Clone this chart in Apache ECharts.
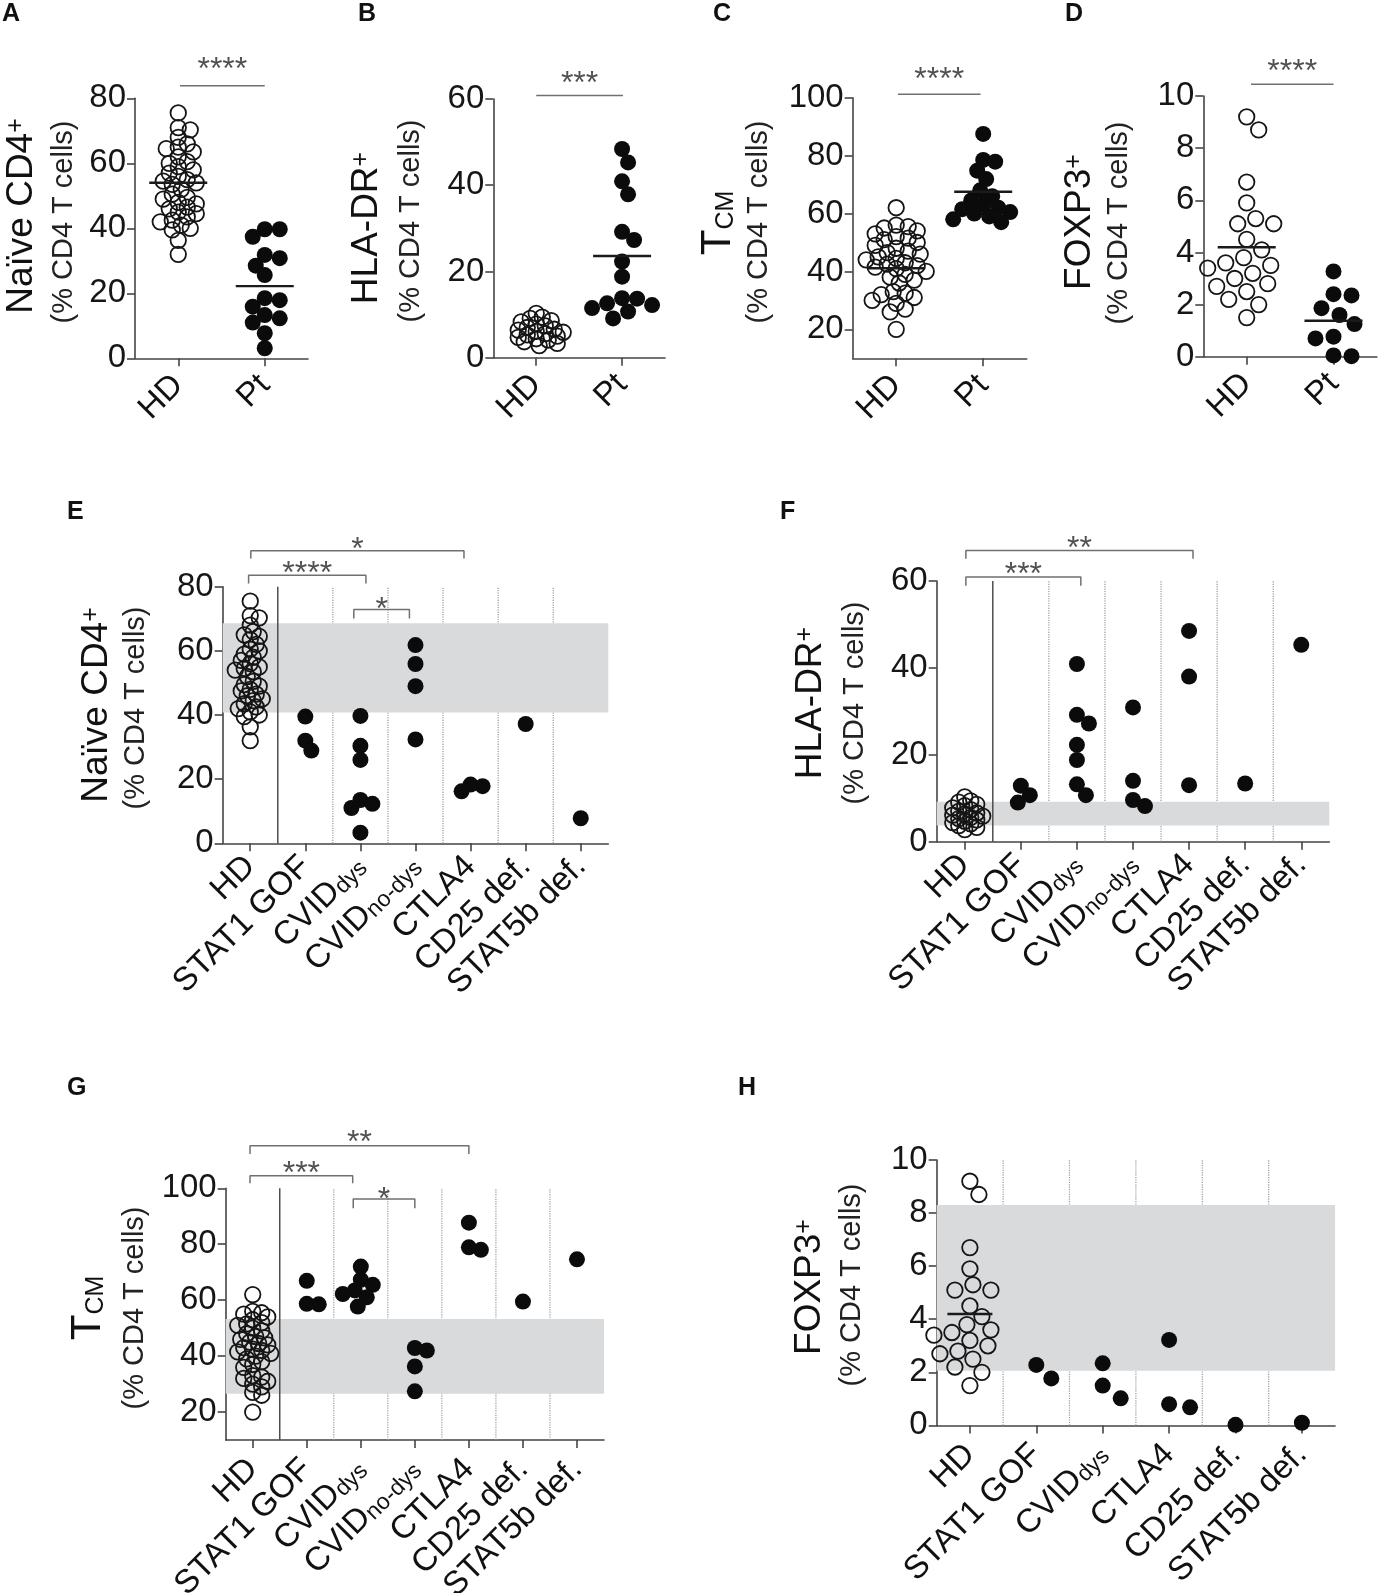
<!DOCTYPE html>
<html>
<head>
<meta charset="utf-8">
<title>CD4 T cell subsets</title>
<script src="https://cdn.jsdelivr.net/npm/echarts@6.0.0/dist/echarts.min.js"></script>
<style>
    html, body { margin: 0; padding: 0; background: #fff; }
    #chart { width: 1380px; height: 1593px; }
</style>
</head>
<body>
<div id="chart"></div>
<script>
var FONT = "'Liberation Sans', Arial, Helvetica, sans-serif";

// groups on the x axes
var groupsTwo = ['HD', 'Pt'];
var groupsSeven = ['HD', 'STAT1 GOF', 'CVIDdys', 'CVIDno-dys', 'CTLA4', 'CD25 def.', 'STAT5b def.'];
var groupsSix = ['HD', 'STAT1 GOF', 'CVIDdys', 'CTLA4', 'CD25 def.', 'STAT5b def.'];

// healthy donors (same donors in A-D and E-H)
var hdNaive = [75.5, 71, 70.3, 68, 66, 65, 64.5, 63.5, 62, 60.5, 60, 59, 58, 57, 56, 55, 54.5, 54, 53.5, 52, 50.5, 49.5, 49, 48, 47.5, 46.5, 46, 45, 44.5, 43.5, 42.5, 42, 41, 40, 39.5, 36.3, 32];
var hdHla = [10.3, 9.4, 9.1, 8.6, 8.3, 7.8, 7.4, 7.0, 6.6, 6.4, 6.1, 5.9, 5.6, 5.3, 5.0, 4.7, 4.4, 4.1, 3.7, 3.3, 2.8];
var hdTcm = [62, 56, 55.5, 55, 54, 53, 52, 51.5, 51, 50, 49, 48, 47, 46.5, 46, 45, 44.5, 44, 43, 42.5, 42, 41.5, 41, 40, 39, 38, 37, 36, 33, 32.5, 32, 31, 30, 29, 27, 26, 20];
var hdFoxp3 = [9.2, 8.7, 6.7, 5.9, 5.3, 5.1, 5.1, 4.5, 4.1, 3.8, 3.6, 3.5, 3.4, 3.2, 3.0, 2.8, 2.7, 2.5, 2.2, 2.0, 1.5];

// all patients (A-D)
var ptNaive = [39.7, 39.7, 37.4, 31.8, 30.8, 28.5, 25.6, 18.5, 17.9, 15.9, 13.3, 12.3, 11, 7.7, 3.1];
var ptHla = [48.4, 45.3, 40.9, 37.9, 29.2, 27.3, 22.3, 18.8, 13.8, 13.7, 12.6, 12.2, 11.5, 10.7, 9.1];
var ptTcm = [87.5, 78.5, 77.9, 74.8, 71.9, 68, 66, 64.5, 63, 62, 61.5, 60.5, 60, 59, 58, 57];
var ptFoxp3 = [3.27, 2.4, 2.35, 1.86, 1.6, 1.25, 0.77, 0.7, 0.05, 0.02];

// patients per diagnosis (E-H), in the order of the groups after HD
var naiveByGroup = [[39.5, 32, 28.9], [39.7, 30.4, 26, 13.5, 12.3, 11, 3.3], [61.8, 55.9, 49, 32.4], [18.3, 17.8, 16.2], [37.2], [7.8]];
var hlaByGroup = [[12.9, 10.7, 9.0], [40.9, 29.2, 27.2, 22.3, 18.8, 13.2, 10.7], [30.9, 14, 9.6, 8.2], [48.5, 38, 13], [13.4], [45.3]];
var tcmByGroup = [[66.9, 58.7, 58.5], [72, 67.3, 65.5, 63.5, 62.2, 61, 57.7], [42.9, 42, 36.3, 27.4], [87.7, 78.9, 78], [59.5], [74.6]];
var foxp3ByGroup = [[2.28, 1.77], [2.34, 1.5, 1.02], [3.22, 0.8, 0.68], [0.02], [0.1]];

// group means (HD, Pt)
var meanNaive = [54, 22.2];
var meanHla = [null, 23.6];
var meanTcm = [41.1, 67.5];
var meanFoxp3 = [4.2, 1.38];
var meanFoxp3H = [4.2];

// HD reference range (grey band)
var bandNaive = [40.8, 68.6];
var bandHla = [3.7, 9.2];
var bandTcm = [26.5, 53.3];
var bandFoxp3 = [2.06, 8.3];

// y ticks
var ticksNaive = [0, 20, 40, 60, 80];
var ticksHla = [0, 20, 40, 60];
var ticksTcm = [20, 40, 60, 80, 100];
var ticksFoxp3 = [0, 2, 4, 6, 8, 10];

// significance bars: x in group units, y in axis units
var sigA = [{text: '****', from: 0.02, to: 1.0, y: 83.9, textY: 88.8}];
var sigB = [{text: '***', from: 0.0, to: 1.01, y: 60.8, textY: 63.5}];
var sigC = [{text: '****', from: 0.02, to: 0.97, y: 101.2, textY: 106}];
var sigD = [{text: '****', from: 0.05, to: 1.0, y: 10.45, textY: 10.92}];
var sigE = [
    {text: '*', from: 0.01, to: 3.88, y: 91.2, leg: 88.8, textY: 91.3},
    {text: '****', from: -0.03, to: 2.1, y: 83.6, leg: 81.0, textY: 84.0},
    {text: '*', from: 1.88, to: 2.89, y: 72.9, leg: 70.1, textY: 72.6}
];
var sigF = [
    {text: '**', from: 0.02, to: 4.07, y: 67.0, leg: 65.1, textY: 67.4},
    {text: '***', from: 0.02, to: 2.07, y: 60.9, leg: 58.9, textY: 61.3}
];
var sigG = [
    {text: '**', from: -0.05, to: 4.0, y: 115.2, leg: 112.3, textY: 116.2},
    {text: '***', from: -0.05, to: 1.85, y: 104.5, leg: 101.8, textY: 105.2},
    {text: '*', from: 1.86, to: 3.0, y: 96.2, leg: 92.9, textY: 95.7}
];

// panel layout
var panels = [
    {letter: 'A', lpos: [2, 14], rect: [135, 98.3, 173, 260], groups: groupsTwo, hd: hdNaive, pts: [ptNaive], range: [0, 80], ticks: ticksNaive,
     means: meanNaive, meanW: 58, sig: sigA, title: 'naive', tpos: [22, 216], spos: [64, 222], margin: 22, hdGap: 9.5, ptGap: 13},
    {letter: 'B', lpos: [358, 14], rect: [493.3, 99, 171.7, 258.7], groups: groupsTwo, hd: hdHla, pts: [ptHla], range: [0, 60], ticks: ticksHla,
     means: meanHla, meanW: 58, sig: sigB, title: 'hla', tpos: [367, 228], spos: [411, 221], margin: 22, hdGap: 7, ptGap: 14},
    {letter: 'C', lpos: [713, 14], rect: [852.7, 97.7, 174, 260.6], groups: groupsTwo, hd: hdTcm, pts: [ptTcm], range: [10, 100], ticks: ticksTcm,
     means: meanTcm, meanW: 58, sig: sigC, title: 'tcm', tpos: [718, 223], spos: [759, 222], margin: 22, hdGap: 9.5, ptGap: 12},
    {letter: 'D', lpos: [1065, 14], rect: [1203.3, 96, 173.6, 260.7], groups: groupsTwo, hd: hdFoxp3, pts: [ptFoxp3], range: [0, 10], ticks: ticksFoxp3,
     means: meanFoxp3, meanW: 58, sig: sigD, title: 'foxp3', tpos: [1080, 222], spos: [1119, 223], margin: 22, hdGap: 17, ptGap: 17},
    {letter: 'E', lpos: [67, 512], rect: [222.7, 586.7, 385.6, 256.6], groups: groupsSeven, hd: hdNaive, pts: naiveByGroup, range: [0, 80], ticks: ticksNaive,
     band: bandNaive, solidFirst: true, sig: sigE, title: 'naive', tpos: [97, 705], spos: [136, 708], margin: 18, hdGap: 7, ptGap: 11},
    {letter: 'F', lpos: [780, 512], rect: [936.7, 581, 392.6, 260.7], groups: groupsSeven, hd: hdHla, pts: hlaByGroup, range: [0, 60], ticks: ticksHla,
     band: bandHla, solidFirst: true, sig: sigF, title: 'hla', tpos: [811, 703], spos: [855, 703], margin: 18, hdGap: 6.5, ptGap: 13},
    {letter: 'G', lpos: [67, 1088], rect: [225.7, 1188.3, 378.3, 251.7], groups: groupsSeven, hd: hdTcm, pts: tcmByGroup, range: [10, 100], ticks: ticksTcm,
     band: bandTcm, solidFirst: true, sig: sigG, title: 'tcm', tpos: [88, 1308], spos: [135, 1308], margin: 24, hdGap: 7, ptGap: 12},
    {letter: 'H', lpos: [738, 1088], rect: [936.7, 1160, 398.4, 265.4], groups: groupsSix, hd: hdFoxp3, pts: foxp3ByGroup, range: [0, 10], ticks: ticksFoxp3,
     band: bandFoxp3, solidFirst: false, means: meanFoxp3H, meanW: 45, title: 'foxp3', tpos: [810, 1287], spos: [852, 1285], margin: 24, hdGap: 16, ptGap: 20}
];

var richTitle = {
    m: {fontSize: 37, fontFamily: FONT, color: '#111'},
    t: {fontSize: 42, fontFamily: FONT, color: '#111'},
    p: {fontSize: 25, fontFamily: FONT, color: '#111', verticalAlign: 'top'},
    b: {fontSize: 25, fontFamily: FONT, color: '#111', verticalAlign: 'bottom'}
};
var titleText = {
    naive: '{m|Naïve CD4}{p|+}',
    hla: '{m|HLA-DR}{p|+}',
    tcm: '{t|T}{b|CM}',
    foxp3: '{m|FOXP3}{p|+}'
};
var richX = {
    m: {fontSize: 33, fontFamily: FONT, color: '#111'},
    s: {fontSize: 23, fontFamily: FONT, color: '#111', verticalAlign: 'bottom'}
};

function catLabel(name) {
    if (name.indexOf('CVID') === 0) {
        return '{m|CVID}{s|' + name.slice(4) + '}';
    }
    return '{m|' + name + '}';
}

// spread overlapping dots sideways (pixel distances), returns [x, value]
function swarm(values, center, pxX, pxY, gap) {
    var placed = [];
    return values.map(function (v) {
        var py = v * pxY;
        var off = 0;
        for (var k = 0; k < 60; k++) {
            off = (k % 2 ? 1 : -1) * Math.ceil(k / 2) * 3;
            var ok = placed.every(function (q) {
                var dx = q[0] - off, dy = q[1] - py;
                return dx * dx + dy * dy >= gap * gap;
            });
            if (ok) break;
        }
        placed.push([off, py]);
        return [center + off / pxX, v];
    });
}

var chart = echarts.init(document.getElementById('chart'));
var grid = [], xAxis = [], yAxis = [], series = [], graphic = [];
var axisColor = '#444';

panels.forEach(function (p, i) {
    var n = p.groups.length;
    var idx = p.groups.map(function (g, k) { return k; });
    var pxX = p.rect[2] / n;
    var pxY = p.rect[3] / (p.range[1] - p.range[0]);

    grid.push({left: p.rect[0], top: p.rect[1], width: p.rect[2], height: p.rect[3], containLabel: false, outerBoundsMode: 'none'});

    xAxis.push({
        gridIndex: i, type: 'value', min: -0.5, max: n - 0.5,
        axisLine: {show: true, onZero: false, lineStyle: {color: axisColor, width: 1.6}},
        axisTick: {show: true, length: 8, customValues: idx, lineStyle: {color: axisColor, width: 1.6}},
        axisLabel: {
            show: true, customValues: idx, rotate: 45, margin: p.margin,
            fontSize: 33, fontFamily: FONT, color: '#111', rich: richX,
            formatter: function (v) { return catLabel(p.groups[Math.round(v)]); }
        },
        splitLine: {show: false}
    });

    yAxis.push({
        gridIndex: i, type: 'value', min: p.range[0], max: p.range[1],
        axisLine: {show: true, onZero: false, lineStyle: {color: axisColor, width: 1.6}},
        axisTick: {show: true, length: 8, customValues: p.ticks, lineStyle: {color: axisColor, width: 1.6}},
        axisLabel: {show: true, customValues: p.ticks, margin: 9, fontSize: 33, fontFamily: FONT, color: '#161616'},
        splitLine: {show: false}
    });

    // separators between groups + grey reference band
    if (p.band) {
        for (var k = 0; k < n - 1; k++) {
            var solid = (k === 0 && p.solidFirst);
            series.push({
                type: 'line', xAxisIndex: i, yAxisIndex: i, z: solid ? 3 : 1, silent: true, symbol: 'none', animation: false,
                lineStyle: solid ? {color: '#4d4d4d', width: 1.5} : {color: '#9a9a9a', width: 1.2, type: 'dotted'},
                data: [[k + 0.5, p.range[0]], [k + 0.5, p.range[1]]]
            });
        }
        series.push({
            type: 'custom', xAxisIndex: i, yAxisIndex: i, z: 2, silent: true, animation: false,
            data: [[p.band[0], p.band[1]]],
            renderItem: function (params, api) {
                var a = api.coord([-0.5, api.value(1)]);
                var b = api.coord([n - 0.5, api.value(0)]);
                return {type: 'rect', shape: {x: a[0], y: a[1], width: b[0] - a[0], height: b[1] - a[1]}, style: {fill: '#d9dadc'}};
            }
        });
    }

    // healthy donors: open circles
    series.push({
        type: 'scatter', xAxisIndex: i, yAxisIndex: i, z: 4, clip: false, silent: true, animation: false,
        symbol: 'circle', symbolSize: 15.5,
        itemStyle: {color: 'rgba(255,255,255,0)', borderColor: '#151515', borderWidth: 1.8, opacity: 1},
        data: swarm(p.hd, 0, pxX, pxY, p.hdGap)
    });

    // patients: filled dots
    p.pts.forEach(function (vals, k) {
        series.push({
            type: 'scatter', xAxisIndex: i, yAxisIndex: i, z: 4, clip: false, silent: true, animation: false,
            symbol: 'circle', symbolSize: 16,
            itemStyle: {color: '#0b0b0b', opacity: 1},
            data: swarm(vals, k + 1, pxX, pxY, p.ptGap)
        });
    });

    // mean bars
    if (p.means) {
        var meanData = [];
        p.means.forEach(function (m, k) {
            if (m != null) meanData.push([k, m]);
        });
        series.push({
            type: 'scatter', xAxisIndex: i, yAxisIndex: i, z: 5, clip: false, silent: true, animation: false,
            symbol: 'rect', symbolSize: [p.meanW, 2.4],
            itemStyle: {color: '#1a1a1a', opacity: 1},
            data: meanData
        });
    }

    // significance bars and stars
    (p.sig || []).forEach(function (s) {
        var pts = s.leg == null
            ? [[s.from, s.y], [s.to, s.y]]
            : [[s.from, s.leg], [s.from, s.y], [s.to, s.y], [s.to, s.leg]];
        series.push({
            type: 'line', xAxisIndex: i, yAxisIndex: i, z: 5, clip: false, silent: true, symbol: 'none', animation: false,
            lineStyle: {color: '#707070', width: 1.5},
            data: pts
        });
        series.push({
            type: 'scatter', xAxisIndex: i, yAxisIndex: i, z: 5, clip: false, silent: true, animation: false,
            symbolSize: 1, itemStyle: {color: 'rgba(0,0,0,0)'},
            label: {show: true, position: 'inside', formatter: s.text, fontSize: 32, fontFamily: FONT, color: '#262626'},
            data: [[(s.from + s.to) / 2, s.textY]]
        });
    });

    // panel letter
    graphic.push({
        type: 'text', x: p.lpos[0], y: p.lpos[1], silent: true,
        style: {text: p.letter, font: 'bold 25px ' + FONT, fill: '#111',
                align: 'left', verticalAlign: 'middle', textAlign: 'left', textVerticalAlign: 'middle'}
    });

    // y axis titles
    graphic.push({
        type: 'text', x: p.tpos[0], y: p.tpos[1], rotation: Math.PI / 2, silent: true,
        style: {text: titleText[p.title], rich: richTitle, font: '37px ' + FONT, fill: '#111',
                align: 'center', verticalAlign: 'middle', textAlign: 'center', textVerticalAlign: 'middle'}
    });
    graphic.push({
        type: 'text', x: p.spos[0], y: p.spos[1], rotation: Math.PI / 2, silent: true,
        style: {text: '(% CD4 T cells)', font: '29px ' + FONT, fill: '#222',
                align: 'center', verticalAlign: 'middle', textAlign: 'center', textVerticalAlign: 'middle'}
    });
});

var option = {
    animation: false,
    backgroundColor: '#fff',
    grid: grid,
    xAxis: xAxis,
    yAxis: yAxis,
    series: series,
    graphic: graphic
};
chart.setOption(option);
</script>
</body>
</html>
